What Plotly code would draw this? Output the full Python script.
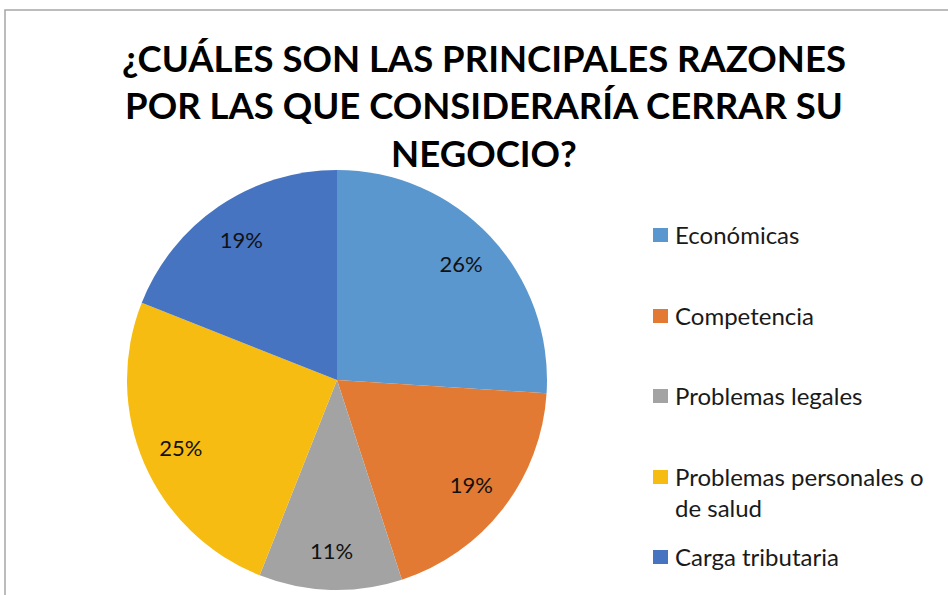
import plotly.graph_objects as go

labels = ["Económicas", "Competencia", "Problemas legales",
          "Problemas personales o de salud", "Carga tributaria"]
legend_text = ["Económicas", "Competencia", "Problemas legales",
               "Problemas personales o<br>de salud", "Carga tributaria"]
values = [26, 19, 11, 25, 19]
colors = ["#5B97CF", "#E27A33", "#A3A3A3", "#F7BC12", "#4674C1"]

W, H = 948, 595
FONT = "Lato"
pie_domain = dict(x=[127 / W, 547 / W], y=[5 / H, 425 / H])

fig = go.Figure()
# the coloured slices
fig.add_trace(go.Pie(
    labels=labels,
    values=values,
    sort=False,
    direction="clockwise",
    marker=dict(colors=colors, line=dict(width=0)),
    textinfo="none",
    domain=pie_domain,
    showlegend=False,
    hoverinfo="label+percent",
))
# transparent ring on top, only used to put the % labels further out
fig.add_trace(go.Pie(
    labels=labels,
    values=values,
    sort=False,
    direction="clockwise",
    hole=0.62,
    marker=dict(colors=["rgba(0,0,0,0)"] * len(values), line=dict(width=0)),
    texttemplate="%{percent:.0%}",
    textposition="inside",
    insidetextorientation="horizontal",
    textfont=dict(family=FONT, size=22, color="#111111"),
    domain=pie_domain,
    showlegend=False,
    hoverinfo="skip",
))

# legend drawn by hand so the item spacing matches the original
legend_y = [235, 316, 396, 477, 557]
shapes = [dict(type="rect", xref="paper", yref="paper",
               x0=5 / W, x1=1.02, y0=-0.02, y1=1 - 10 / H,
               line=dict(color="#A6A6A6", width=1.5), fillcolor="rgba(0,0,0,0)")]
annotations = []
for txt, col, y in zip(legend_text, colors, legend_y):
    shapes.append(dict(type="rect", xref="paper", yref="paper",
                       x0=653 / W, x1=668 / W, y0=1 - (y + 7) / H, y1=1 - (y - 7) / H,
                       line=dict(width=0), fillcolor=col))
    annotations.append(dict(text=txt, xref="paper", yref="paper",
                            x=673 / W, y=1 - (y - 17) / H, xanchor="left", yanchor="top",
                            align="left", showarrow=False,
                            font=dict(family=FONT, size=24, color="#1a1a1a")))

fig.update_layout(
    width=W, height=H,
    margin=dict(l=0, r=0, t=0, b=0),
    paper_bgcolor="white",
    plot_bgcolor="white",
    title=dict(
        text="¿CUÁLES SON LAS PRINCIPALES RAZONES<br>POR LAS QUE CONSIDERARÍA CERRAR SU<br>NEGOCIO?",
        x=484 / W, xanchor="center",
        y=1 - 72 / H, yanchor="top",
        font=dict(family=FONT, size=36.5, color="black", weight="bold"),
    ),
    shapes=shapes,
    annotations=annotations,
)

fig.write_html("out.html", config={"displayModeBar": False},
               post_script="document.body.style.margin='0';")
